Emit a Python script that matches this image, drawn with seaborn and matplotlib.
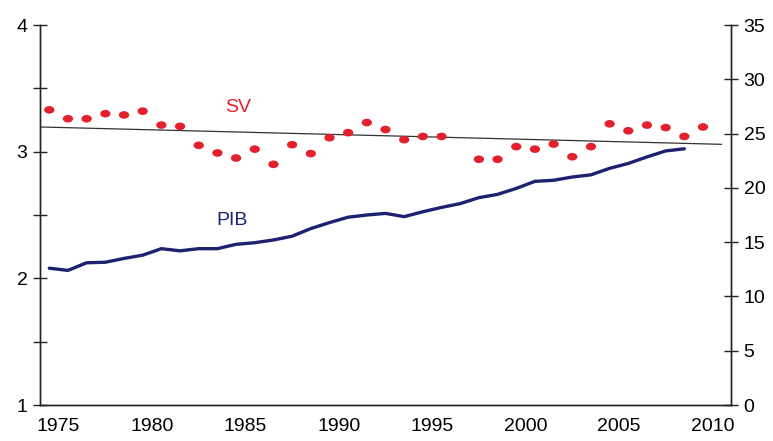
import numpy as np
import pandas as pd
import matplotlib
matplotlib.use("Agg")
import matplotlib.pyplot as plt
from matplotlib.path import Path
from matplotlib.transforms import Affine2D
import seaborn as sns

# SV (axe gauche) : une valeur par année, 1996 absent
sv_years = [1974, 1975, 1976, 1977, 1978, 1979, 1980, 1981, 1982, 1983, 1984, 1985,
            1986, 1987, 1988, 1989, 1990, 1991, 1992, 1993, 1994, 1995,
            1997, 1998, 1999, 2000, 2001, 2002, 2003, 2004, 2005, 2006, 2007, 2008, 2009]
sv_values = [3.33, 3.26, 3.26, 3.30, 3.29, 3.32, 3.21, 3.20, 3.05, 2.99, 2.95, 3.02,
             2.90, 3.055, 2.985, 3.11, 3.15, 3.23, 3.175, 3.095, 3.12, 3.12,
             2.94, 2.94, 3.04, 3.02, 3.06, 2.96, 3.04, 3.22, 3.165, 3.21, 3.19, 3.12, 3.195]

# Tendance de SV (extrémités)
trend_years = [1973.5, 2010.0]
trend_values = [3.195, 3.058]

# PIB (axe droit)
pib_years = list(range(1974, 2009))
pib_values = [12.6, 12.4, 13.1, 13.15, 13.5, 13.8, 14.4, 14.2, 14.4, 14.4, 14.8, 14.95,
              15.2, 15.55, 16.25, 16.8, 17.3, 17.5, 17.65, 17.35, 17.8, 18.2, 18.55,
              19.1, 19.4, 19.95, 20.6, 20.7, 21.0, 21.2, 21.8, 22.25, 22.85, 23.4, 23.6]

RED = "#e3202e"
NAVY = "#1c2270"

sns.set_style("white")
plt.rcParams["font.family"] = ["Liberation Sans", "DejaVu Sans"]

# point légèrement aplati comme sur l'original
ellipse = Path.unit_circle().transformed(Affine2D().scale(1.35, 1.0))

fig = plt.figure(figsize=(7.73, 4.41), dpi=100)
ax = fig.add_axes([0.0517, 0.0816, 0.894, 0.8617])
ax2 = ax.twinx()

# les points sont placés en milieu d'année
sv = pd.DataFrame({"annee": np.array(sv_years) + 0.5, "sv": sv_values})
pib = pd.DataFrame({"annee": np.array(pib_years) + 0.5, "pib": pib_values})
trend = pd.DataFrame({"annee": np.array(trend_years) + 0.5, "sv": trend_values})

sns.lineplot(data=trend, x="annee", y="sv", ax=ax, color="#333333", linewidth=0.9)
sns.scatterplot(data=sv, x="annee", y="sv", ax=ax, color=RED, s=55,
                marker=ellipse, edgecolor="none", zorder=3)
sns.lineplot(data=pib, x="annee", y="pib", ax=ax2, color=NAVY, linewidth=2.4)

ax.set_xlim(1974, 2011)
ax.set_ylim(1, 4)
ax2.set_ylim(0, 35)

ax.set_yticks(np.arange(1, 4.01, 0.5))
ax.set_yticklabels(["1", "", "2", "", "3", "", "4"])
ax2.set_yticks(range(0, 36, 5))
ax.set_xticks(range(1975, 2011, 5))

for a in (ax, ax2):
    a.set_xlabel("")
    a.set_ylabel("")
    a.spines["top"].set_visible(False)
    for s in ("left", "right", "bottom"):
        a.spines[s].set_color("#222222")
        a.spines[s].set_linewidth(1.0)
    a.tick_params(direction="inout", length=10, width=1.0, colors="#222222",
                  labelsize=14, labelcolor="black")
ax.tick_params(axis="x", pad=4)
ax.tick_params(axis="y", pad=4)
ax2.tick_params(axis="y", pad=4)

ax.text(1984.6, 3.35, "SV", color=RED, fontsize=14, ha="center", va="center")
ax2.text(1984.3, 17.0, "PIB", color=NAVY, fontsize=14, ha="center", va="center")

fig.savefig("out.png", dpi=100)
